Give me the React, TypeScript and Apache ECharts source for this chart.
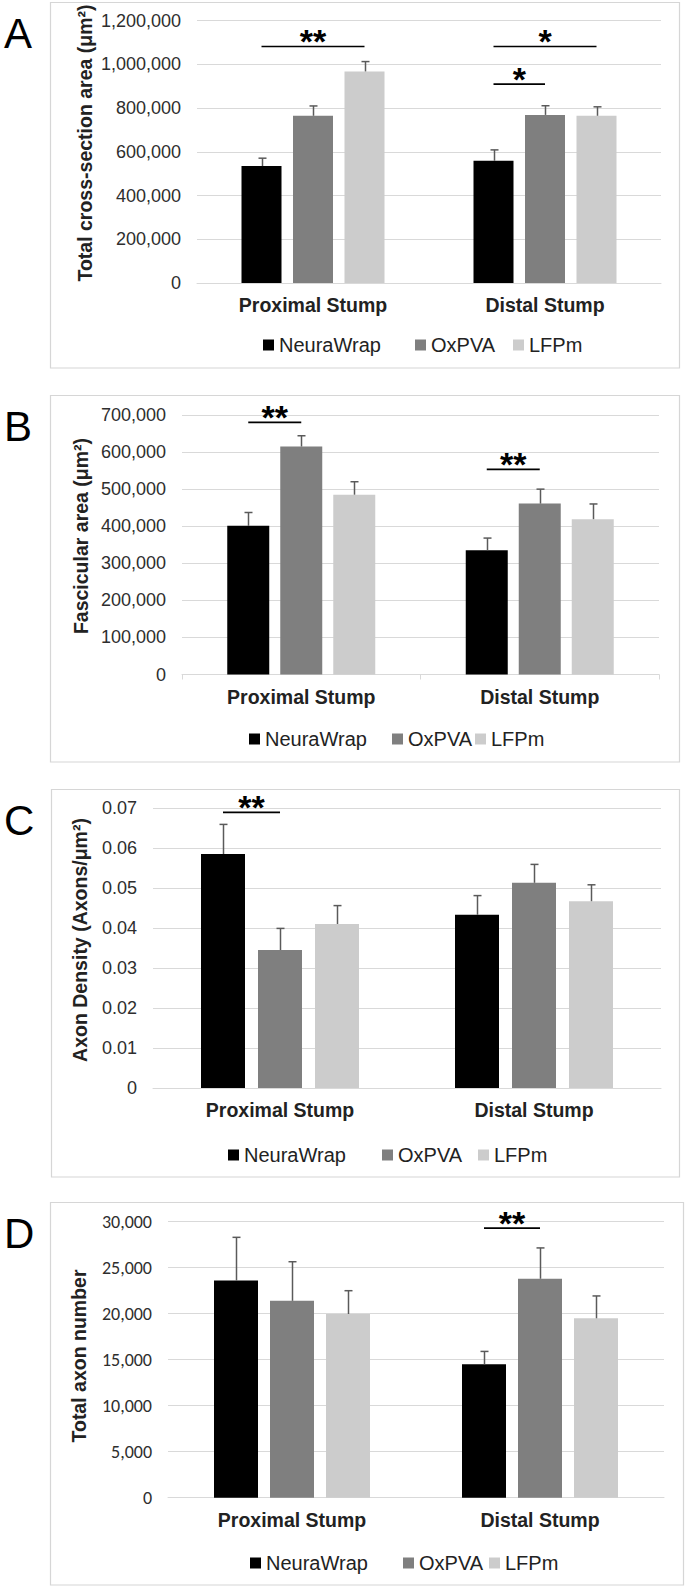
import React, { useEffect, useRef } from 'react';
import * as echarts from 'echarts';

// ---------- data ----------
const categories = ['Proximal Stump', 'Distal Stump'];
const groups = ['NeuraWrap', 'OxPVA', 'LFPm'];
const groupColors = ['#000000', '#7f7f7f', '#cccccc'];

// Panel A: Total cross-section area (µm²)
const areaNeuraWrap = [535000, 559000];
const areaOxPVA = [765000, 769000];
const areaLFPm = [968000, 765000];
const areaErrNeuraWrap = [36000, 50000];
const areaErrOxPVA = [45000, 42000];
const areaErrLFPm = [45000, 41000];
const areaAxis = [0, 1200000, 200000]; // min, max, interval
// [category, fromGroup, toGroup, y, label]
const areaSig: [number, number, number, number, string][] = [
  [0, 0, 2, 1082000, '**'],
  [1, 0, 2, 1082000, '*'],
  [1, 0, 1, 910000, '*'],
];

// Panel B: Fascicular area (µm²)
const fascNeuraWrap = [401000, 335000];
const fascOxPVA = [615000, 461000];
const fascLFPm = [485000, 419000];
const fascErrNeuraWrap = [36000, 33000];
const fascErrOxPVA = [29000, 39000];
const fascErrLFPm = [35000, 41000];
const fascAxis = [0, 700000, 100000];
const fascSig: [number, number, number, number, string][] = [
  [0, 0, 1, 680000, '**'],
  [1, 0, 1, 553500, '**'],
];

// Panel C: Axon density (axons/µm²)
const densNeuraWrap = [0.0585, 0.0433];
const densOxPVA = [0.0345, 0.0513];
const densLFPm = [0.041, 0.0467];
const densErrNeuraWrap = [0.0074, 0.0048];
const densErrOxPVA = [0.0054, 0.0046];
const densErrLFPm = [0.0046, 0.0041];
const densAxis = [0, 0.07, 0.01];
const densSig: [number, number, number, number, string][] = [
  [0, 0, 1, 0.0689, '**'],
];

// Panel D: Total axon number
const axonNeuraWrap = [23600, 14500];
const axonOxPVA = [21400, 23800];
const axonLFPm = [19970, 19500];
const axonErrNeuraWrap = [4700, 1400];
const axonErrOxPVA = [4250, 3350];
const axonErrLFPm = [2530, 2430];
const axonAxis = [0, 30000, 5000];
const axonSig: [number, number, number, number, string][] = [
  [1, 0, 1, 29300, '**'],
];

const panelLetters = ['A', 'B', 'C', 'D'];
const yTitles = [
  'Total cross-section area (μm²)',
  'Fascicular area (μm²)',
  'Axon Density (Axons/μm²)',
  'Total axon number',
];

// ---------- layout ----------
const ARIAL = '"Liberation Sans", Arial, Helvetica, sans-serif';
const CALIBRI = 'Carlito, Lato, "Liberation Sans", sans-serif';

const layouts = [
  { box: [50.5, 2.5, 629, 365.5], grid: { left: 197, right: 24, top: 20.7, height: 262.3 }, bw: 40, gap: 11.5, titleX: 85, titleY: 143, legendY: 345, legendX: [263, 415, 513], tickFont: ARIAL, xTick: false },
  { box: [50.5, 395.5, 629, 366.5], grid: { left: 182, right: 26, top: 415, height: 259.5 }, bw: 42, gap: 11, titleX: 81, titleY: 536, legendY: 739, legendX: [249, 392, 475], tickFont: ARIAL, xTick: true },
  { box: [51.5, 789.5, 628, 387.5], grid: { left: 153, right: 24, top: 808, height: 280 }, bw: 44, gap: 13, titleX: 80, titleY: 940, legendY: 1155, legendX: [228, 382, 478], tickFont: ARIAL, xTick: false },
  { box: [50.5, 1202.5, 633, 382.5], grid: { left: 168, right: 21, top: 1221.7, height: 276 }, bw: 44, gap: 12, titleX: 79, titleY: 1356, legendY: 1563, legendX: [250, 403, 489], tickFont: CALIBRI, xTick: false },
];

const panelMeans = [
  [areaNeuraWrap, areaOxPVA, areaLFPm],
  [fascNeuraWrap, fascOxPVA, fascLFPm],
  [densNeuraWrap, densOxPVA, densLFPm],
  [axonNeuraWrap, axonOxPVA, axonLFPm],
];
const panelErrs = [
  [areaErrNeuraWrap, areaErrOxPVA, areaErrLFPm],
  [fascErrNeuraWrap, fascErrOxPVA, fascErrLFPm],
  [densErrNeuraWrap, densErrOxPVA, densErrLFPm],
  [axonErrNeuraWrap, axonErrOxPVA, axonErrLFPm],
];
const panelAxes = [areaAxis, fascAxis, densAxis, axonAxis];
const panelSigs = [areaSig, fascSig, densSig, axonSig];

function buildOption() {
  const grid: any[] = [];
  const xAxis: any[] = [];
  const yAxis: any[] = [];
  const series: any[] = [];
  const legend: any[] = [];
  const graphic: any[] = [];

  layouts.forEach((L, p) => {
    grid.push({ ...L.grid, containLabel: false, outerBoundsMode: 'none' });
    xAxis.push({
      type: 'category',
      gridIndex: p,
      data: categories,
      axisLine: { show: true, lineStyle: { color: '#d9d9d9', width: 1 } },
      axisTick: { show: L.xTick, length: 5, lineStyle: { color: '#d9d9d9' } },
      axisLabel: { margin: 12, fontSize: 19.5, fontWeight: 'bold', color: '#222222', fontFamily: ARIAL },
      splitLine: { show: false },
    });
    const [mn, mx, iv] = panelAxes[p];
    yAxis.push({
      type: 'value',
      gridIndex: p,
      min: mn,
      max: mx,
      interval: iv,
      axisLine: { show: false },
      axisTick: { show: false },
      splitLine: { lineStyle: { color: '#d9d9d9', width: 1 } },
      axisLabel: {
        margin: 16,
        fontSize: 18,
        color: '#2e2e2e',
        fontFamily: L.tickFont,
        formatter: (v: number) =>
          p === 2 ? (v === 0 ? '0' : v.toFixed(2)) : Math.round(v).toLocaleString('en-US'),
      },
    });

    const gapPct = (L.gap / L.bw) * 100 + '%';
    groups.forEach((g, gi) => {
      series.push({
        type: 'bar',
        name: g,
        xAxisIndex: p,
        yAxisIndex: p,
        data: panelMeans[p][gi],
        barWidth: L.bw,
        barGap: gapPct,
        itemStyle: { color: groupColors[gi] },
        z: 2,
      });
    });

    // error bars
    const errData: number[][] = [];
    groups.forEach((_, gi) => {
      categories.forEach((_, ci) => {
        errData.push([ci, panelMeans[p][gi][ci], panelErrs[p][gi][ci], gi]);
      });
    });
    series.push({
      type: 'custom',
      xAxisIndex: p,
      yAxisIndex: p,
      silent: true,
      z: 5,
      clip: false,
      encode: { x: 0, y: 1 },
      data: errData,
      renderItem: (params: any, api: any) => {
        const ci = api.value(0);
        const mean = api.value(1);
        const err = api.value(2);
        const gi = api.value(3);
        const base = api.coord([ci, mean]);
        const top = api.coord([ci, mean + err]);
        const x = Math.round(base[0] + (gi - 1) * (L.bw + L.gap)) + 0.5;
        const cap = 4;
        const st = { stroke: '#5a5a5a', lineWidth: 1.5 };
        return {
          type: 'group',
          children: [
            { type: 'line', shape: { x1: x, y1: base[1], x2: x, y2: top[1] }, style: st },
            { type: 'line', shape: { x1: x - cap, y1: top[1], x2: x + cap, y2: top[1] }, style: st },
          ],
        };
      },
    });

    // significance lines
    const sig = panelSigs[p];
    series.push({
      type: 'custom',
      xAxisIndex: p,
      yAxisIndex: p,
      silent: true,
      z: 6,
      clip: false,
      encode: { x: 0, y: 3 },
      data: sig.map((s) => [s[0], s[1], s[2], s[3]]),
      renderItem: (params: any, api: any) => {
        const ci = api.value(0);
        const g1 = api.value(1);
        const g2 = api.value(2);
        const yv = api.value(3);
        const c = api.coord([ci, yv]);
        const x1 = c[0] + (g1 - 1) * (L.bw + L.gap);
        const x2 = c[0] + (g2 - 1) * (L.bw + L.gap);
        const label = sig[params.dataIndex][4];
        return {
          type: 'group',
          children: [
            { type: 'line', shape: { x1, y1: c[1], x2, y2: c[1] }, style: { stroke: '#000', lineWidth: 1.7 } },
            {
              type: 'text',
              x: (x1 + x2) / 2,
              y: c[1] - 5,
              style: {
                text: label,
                fill: '#000',
                fontSize: 34,
                fontWeight: 'bold',
                fontFamily: ARIAL,
                align: 'center',
                verticalAlign: 'middle',
              },
            },
          ],
        };
      },
    });

    // legends
    groups.forEach((g, gi) => {
      legend.push({
        data: [g],
        left: L.legendX[gi],
        top: L.legendY - 10,
        padding: 0,
        itemWidth: 11,
        itemHeight: 11,
        icon: 'rect',
        selectedMode: false,
        textStyle: { fontSize: 20, color: '#222222', fontFamily: ARIAL },
      });
    });

    // box
    graphic.push({
      type: 'rect',
      silent: true,
      shape: { x: L.box[0], y: L.box[1], width: L.box[2], height: L.box[3] },
      style: { fill: 'none', stroke: '#d6d6d6', lineWidth: 1.2 },
    });
    // panel letter
    graphic.push({
      type: 'text',
      silent: true,
      x: 4,
      y: L.box[1] + 31,
      style: { text: panelLetters[p], fontSize: 42, fill: '#000', fontFamily: ARIAL, align: 'left', verticalAlign: 'middle' },
    });
    // y title
    graphic.push({
      type: 'text',
      silent: true,
      x: L.titleX,
      y: L.titleY,
      rotation: Math.PI / 2,
      style: {
        text: yTitles[p],
        fontSize: 19.5,
        fontWeight: 'bold',
        fill: '#222222',
        fontFamily: ARIAL,
        align: 'center',
        verticalAlign: 'middle',
      },
    });
  });

  return {
    animation: false,
    backgroundColor: '#ffffff',
    grid,
    xAxis,
    yAxis,
    series,
    legend,
    graphic,
  };
}

export default function App() {
  const ref = useRef<HTMLDivElement>(null);
  useEffect(() => {
    document.body.style.margin = '0';
    if (!ref.current) return;
    const chart = echarts.init(ref.current, null, { renderer: 'svg' });
    chart.setOption(buildOption() as any);
    return () => chart.dispose();
  }, []);
  return <div ref={ref} style={{ width: 685, height: 1587, background: '#fff' }} />;
}
